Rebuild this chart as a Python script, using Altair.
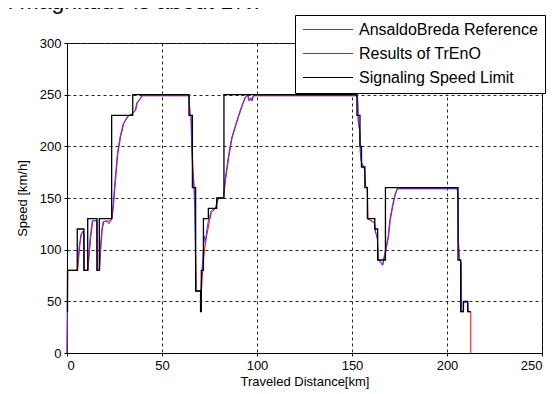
import altair as alt
import pandas as pd

# Signaling speed limit (step changes: km where the limit starts, limit in km/h)
sig_km = [0, 0.25, 5.4, 8.9, 10.9, 15.8, 17.0, 23.5, 34.6, 64.2, 66.0, 67.7, 70.3, 70.7,
          71.8, 74.4, 78.8, 82.6, 152.6, 154.2, 155.0, 156.8, 158.1, 162.0, 163.5, 167.6,
          205.8, 207.2, 208.6, 210.9, 212.5]
sig_speed = [40, 80, 120, 80, 130, 80, 130, 230, 250, 230, 160, 60, 40, 80,
             130, 140, 150, 250, 230, 200, 180, 160, 130, 120, 90, 160,
             90, 40, 50, 40, 40]

# Results of TrEnO
tr_km = [0, 0.15, 0.3, 5.4, 5.8, 6.5, 7.4, 8.4, 8.9, 9.0, 10.9, 11.4, 12.2, 13.3, 15.6, 15.8,
         17.0, 17.5, 18.2, 19.0, 21.0, 22.0, 23.0, 23.6, 24.3, 25.3, 26.5, 27.9, 29.6, 31.9,
         34.6, 35.9, 36.7, 38.4, 39.3, 64.2, 64.6, 65.2, 65.6, 66.2, 66.8, 67.2, 67.9, 70.0,
         70.5, 71.0, 71.8, 72.3, 72.8, 73.5, 74.4, 75.0, 76.0, 78.0, 78.8, 79.5, 82.4, 82.8,
         83.2, 84.9, 86.6, 88.4, 90.1, 91.9, 93.6, 94.9, 95.8, 96.6, 97.3, 98.0, 99.4, 152.5,
         153.0, 153.2, 154.0, 154.3, 154.8, 156.5, 157.0, 158.0, 158.3, 161.8, 162.2, 163.3,
         163.8, 165.0, 166.0, 167.3, 169.0, 169.9, 171.3, 172.5, 173.7, 205.4, 205.7, 205.9,
         206.5, 207.3, 207.6, 208.6, 208.7, 210.8, 211.0, 211.8]
tr_speed = [0, 40, 80, 80, 90, 105, 115, 118, 115, 80, 80, 95, 112, 128, 128, 80,
            80, 100, 118, 127, 128, 125, 128, 130, 145, 168, 193, 209, 222, 229,
            232, 235, 242, 246, 249, 249, 232, 228, 200, 175, 160, 140, 60, 60,
            62, 80, 100, 113, 108, 118, 128, 132, 138, 140, 145, 150, 150, 160,
            168, 190, 208, 219, 229, 239, 247, 250, 244, 247, 244, 249, 249, 249,
            245, 225, 215, 195, 185, 178, 162, 160, 130, 126, 118, 112,
            90, 88, 85, 97, 113, 129, 143, 153, 159, 159, 150, 110,
            90, 88, 40, 40, 49, 49, 40, 40]

# AnsaldoBreda reference
ref_km = [0, 0.2, 0.45, 5.6, 6.1, 6.8, 7.6, 8.5, 8.9, 9.1, 11.1, 11.7, 12.5, 13.6, 15.7, 15.9,
          17.2, 17.8, 18.5, 19.3, 23.0, 23.8, 24.6, 25.6, 26.8, 28.2, 29.9, 32.2, 34.8, 36.2,
          37.0, 38.7, 39.6, 64.2, 64.8, 65.4, 65.8, 66.4, 67.0, 67.4, 68.0, 70.2, 70.8, 71.4,
          72.2, 72.8, 73.4, 74.2, 75.0, 76.0, 78.2, 79.0, 79.8, 82.4, 83.0, 83.5, 85.2, 86.9,
          88.7, 90.4, 92.2, 93.9, 95.2, 96.0, 96.8, 97.5, 98.2, 152.7, 153.1, 153.3, 154.1,
          154.5, 155.0, 156.6, 157.1, 158.1, 158.4, 161.9, 162.3, 163.4, 163.9, 165.1, 166.2,
          167.6, 169.3, 170.2, 171.6, 172.8, 174.0, 205.5, 205.8, 206.0, 206.6, 207.4, 207.7,
          208.7, 208.8, 210.9, 211.1, 212.5, 212.5]
ref_speed = [0, 40, 80, 80, 90, 105, 115, 118, 115, 80, 80, 95, 112, 128, 128, 80,
             80, 100, 118, 127, 128, 130, 145, 168, 193, 209, 222, 229, 232, 235,
             242, 246, 249, 249, 232, 228, 200, 175, 160, 140, 60, 60, 62, 80,
             97, 105, 112, 120, 128, 136, 140, 145, 150, 150, 160, 168, 190, 208,
             219, 229, 239, 247, 250, 244, 247, 244, 249, 249, 240, 225, 215,
             195, 185, 178, 162, 160, 130, 126, 118, 110, 90, 88, 85,
             97, 113, 129, 143, 153, 159, 159, 150, 110, 90, 88, 40,
             40, 49, 49, 40, 40, 0]

series_names = ["AnsaldoBreda Reference", "Results of TrEnO", "Signaling Speed Limit"]
series_colors = ["#ff0000", "#3c3cff", "#000000"]
x_ticks = [0, 50, 100, 150, 200, 250]
y_ticks = [0, 50, 100, 150, 200, 250, 300]
top_text = "l magnitude is about 1%."


def frame(km, sp, name):
    return pd.DataFrame({"km": km, "speed": sp, "series": name, "idx": list(range(len(km)))})


ref_df = frame(ref_km, ref_speed, series_names[0])
tr_df = frame(tr_km, tr_speed, series_names[1])
sig_df = frame(sig_km, sig_speed, series_names[2])

FONT = "Liberation Sans"

x = alt.X("km:Q", scale=alt.Scale(domain=[0, 250], nice=False),
          axis=alt.Axis(values=x_ticks, title="Traveled Distance[km]", format="d"))
y = alt.Y("speed:Q", scale=alt.Scale(domain=[0, 300], nice=False),
          axis=alt.Axis(values=y_ticks, title="Speed [km/h]", format="d"))
color = alt.Color(
    "series:N",
    scale=alt.Scale(domain=series_names, range=series_colors),
    legend=alt.Legend(
        title=None, orient="none", legendX=228, legendY=-28,
        symbolType="M-1,0L1,0", symbolSize=2500, symbolStrokeWidth=1.2, clipHeight=15,
        labelFontSize=16, labelFont=FONT, labelColor="black", labelOffset=5, labelLimit=300,
        fillColor="white", strokeColor="black", padding=7, rowPadding=7,
    ),
)

ref_layer = alt.Chart(ref_df).mark_line(strokeWidth=1).encode(x=x, y=y, color=color, order="idx:Q")
tr_layer = alt.Chart(tr_df).mark_line(strokeWidth=1).encode(x=x, y=y, color=color, order="idx:Q")
sig_layer = alt.Chart(sig_df).mark_line(strokeWidth=1.3, interpolate="step-after").encode(
    x=x, y=y, color=color, order="idx:Q")
text_layer = alt.Chart(pd.DataFrame({"t": [top_text]})).mark_text(
    align="left", baseline="alphabetic", fontSize=23, font=FONT, color="black"
).encode(x=alt.value(-59), y=alt.value(-34), text="t:N")

chart = (
    alt.layer(ref_layer, tr_layer, sig_layer, text_layer)
    .properties(
        width=475, height=310,
        autosize=alt.AutoSizeParams(type="none"),
        padding={"left": 59, "top": 35, "right": 4, "bottom": 43},
    )
    .configure_view(stroke="black", strokeWidth=1)
    .configure_axis(
        grid=True, gridColor="#222222", gridDash=[3, 3], gridWidth=1, gridOpacity=1,
        domainColor="black", domainWidth=1, tickColor="black", tickSize=3,
        labelFont=FONT, labelFontSize=13, labelColor="black", labelPadding=3,
        titleFont=FONT, titleFontSize=13, titleFontWeight="normal", titleColor="black",
    )
    .configure_axisX(titlePadding=3)
    .configure_axisY(titlePadding=10)
)

chart.save("out.html", embed_options={"renderer": "svg", "actions": False})
